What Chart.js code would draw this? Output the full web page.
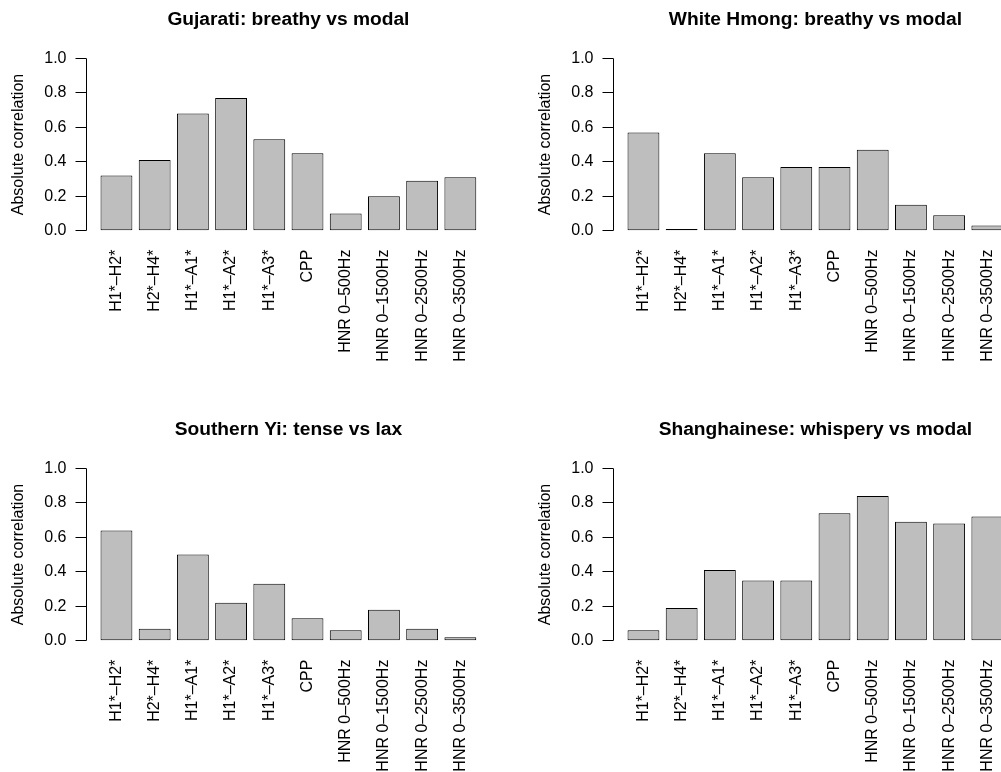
<!DOCTYPE html>
<html>
<head>
<meta charset="utf-8">
<script src="https://cdn.jsdelivr.net/npm/chart.js@4.4.1/dist/chart.umd.min.js"></script>
<style>
  html, body { margin: 0; padding: 0; background: #fff; overflow: hidden; }
  #wrap { position: relative; width: 1001px; height: 772px; overflow: hidden; }
  .painel { position: absolute; width: 527px; height: 410px; }
  .painel canvas { display: block; }
</style>
</head>
<body>
<div id="wrap">
  <div class="painel" style="left:0;top:0"><canvas id="c-gujarati" width="527" height="410"></canvas></div>
  <div class="painel" style="left:527px;top:0"><canvas id="c-hmong" width="527" height="410"></canvas></div>
  <div class="painel" style="left:0;top:410px"><canvas id="c-yi" width="527" height="410"></canvas></div>
  <div class="painel" style="left:527px;top:410px"><canvas id="c-shanghai" width="527" height="410"></canvas></div>
</div>
<script>
  // medidas acústicas (eixo x)
  var medidas = [
    "H1*\u2013H2*", "H2*\u2013H4*", "H1*\u2013A1*", "H1*\u2013A2*", "H1*\u2013A3*",
    "CPP", "HNR 0\u2013500Hz", "HNR 0\u20131500Hz", "HNR 0\u20132500Hz", "HNR 0\u20133500Hz"
  ];

  // correlação absoluta por língua
  var gujarati  = [0.32, 0.41, 0.68, 0.77, 0.53, 0.45, 0.10, 0.20, 0.29, 0.31];
  var hmong     = [0.57, 0.01, 0.45, 0.31, 0.37, 0.37, 0.47, 0.15, 0.09, 0.03];
  var yi        = [0.64, 0.07, 0.50, 0.22, 0.33, 0.13, 0.06, 0.18, 0.07, 0.02];
  var shanghai  = [0.06, 0.19, 0.41, 0.35, 0.35, 0.74, 0.84, 0.69, 0.68, 0.72];

  var ticksY = [0, 0.2, 0.4, 0.6, 0.8, 1.0];

  var FONTE = "'Liberation Sans', Arial, Helvetica, sans-serif";

  // linha do eixo y só de 0 a 1, como no R
  var eixoY = {
    id: "eixoY",
    afterDraw: function (chart) {
      var ctx = chart.ctx;
      var y = chart.scales.y;
      var x = Math.round(chart.chartArea.left) + 0.5;
      ctx.save();
      ctx.strokeStyle = "#000";
      ctx.lineWidth = 1;
      ctx.beginPath();
      ctx.moveTo(x, y.getPixelForValue(ticksY[0]));
      ctx.lineTo(x, y.getPixelForValue(ticksY[ticksY.length - 1]));
      ctx.stroke();
      ctx.restore();
    }
  };

  function criarPainel(id, titulo, valores) {
    var ctx = document.getElementById(id);
    new Chart(ctx, {
      type: "bar",
      data: {
        datasets: [
          {
            data: valores.map(function (v, i) {
              return { x: i, y: v };
            }),
            backgroundColor: "#bebebe",
            borderColor: "#000",
            borderWidth: 1,
            borderSkipped: false,
            barPercentage: 1,
            categoryPercentage: 1 / 1.2
          }
        ]
      },
      options: {
        responsive: false,
        animation: false,
        layout: { padding: { top: 0, left: 0, right: 35.7, bottom: 0 } },
        plugins: {
          legend: { display: false },
          tooltip: { enabled: false },
          title: {
            display: true,
            text: titulo,
            fullSize: false,
            color: "#000",
            font: { family: FONTE, size: 19.2, weight: "bold" },
            padding: { top: 8, bottom: 20.4 }
          }
        },
        scales: {
          x: {
            type: "linear",
            offset: false,
            min: -0.81,
            max: 9.81,
            afterBuildTicks: function (s) {
              s.ticks = medidas.map(function (m, i) {
                return { value: i };
              });
            },
            afterFit: function (s) {
              s.height = 172.4;
            },
            grid: { display: false, drawTicks: false, offset: false },
            border: { display: false },
            ticks: {
              autoSkip: false,
              minRotation: 90,
              maxRotation: 90,
              padding: 12,
              color: "#000",
              font: { family: FONTE, size: 16 },
              callback: function (v) {
                return medidas[v];
              }
            }
          },
          y: {
            type: "linear",
            min: -0.04,
            max: 1.04,
            afterBuildTicks: function (s) {
              s.ticks = ticksY.map(function (v) {
                return { value: v };
              });
            },
            afterFit: function (s) {
              s.width = 85.5;
            },
            border: { display: false },
            grid: {
              drawOnChartArea: false,
              drawTicks: true,
              tickLength: 10,
              color: "#000",
              lineWidth: 1
            },
            ticks: {
              padding: 9,
              color: "#000",
              font: { family: FONTE, size: 16 },
              callback: function (v) {
                return Number(v).toFixed(1);
              }
            },
            title: {
              display: true,
              text: "Absolute correlation",
              color: "#000",
              font: { family: FONTE, size: 16 },
              padding: { top: 9, bottom: 0 }
            }
          }
        }
      },
      plugins: [eixoY]
    });
  }

  criarPainel("c-gujarati", "Gujarati: breathy vs modal", gujarati);
  criarPainel("c-hmong", "White Hmong: breathy vs modal", hmong);
  criarPainel("c-yi", "Southern Yi: tense vs lax", yi);
  criarPainel("c-shanghai", "Shanghainese: whispery vs modal", shanghai);
</script>
</body>
</html>
